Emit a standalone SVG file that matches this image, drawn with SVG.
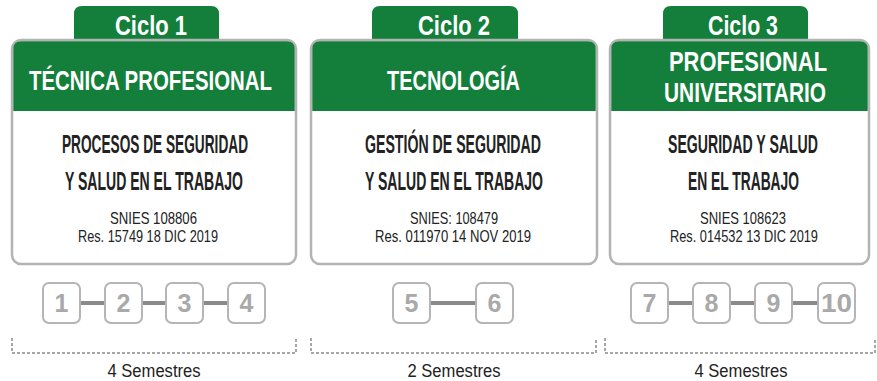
<svg xmlns="http://www.w3.org/2000/svg" width="877" height="381" viewBox="0 0 877 381">
<style>
.card{fill:#fff;stroke:#b3b3b3;stroke-width:2.5}
.green{fill:#137f3b}
.tab{font-family:"Liberation Sans",Arial,sans-serif;font-weight:bold;font-size:28px;fill:#fff;text-anchor:middle}
.head{font-family:"Liberation Sans",Arial,sans-serif;font-weight:bold;font-size:28px;fill:#fff;text-anchor:middle}
.prog{font-family:"Liberation Sans",Arial,sans-serif;font-weight:bold;font-size:25px;fill:#222;text-anchor:middle}
.info{font-family:"Liberation Sans",Arial,sans-serif;font-size:17px;fill:#222;text-anchor:middle}
.sem{fill:#fff;stroke:#b5b5b5;stroke-width:2}
.num{font-family:"Liberation Sans",Arial,sans-serif;font-weight:bold;font-size:25px;fill:#a9a9a9;text-anchor:middle}
.link{stroke:#8a8a8a;stroke-width:4}
.brk{fill:none;stroke:#8a8a8a;stroke-width:1.5;stroke-dasharray:3 2}
.lbl{font-family:"Liberation Sans",Arial,sans-serif;font-size:18px;fill:#222;text-anchor:middle}
</style>

<g id="ciclo1">
<path class="green" d="M74,42 V14 Q74,6 82,6 H211 Q219,6 219,14 V42 Z"/>
<text class="tab" x="151" y="35" textLength="72" lengthAdjust="spacingAndGlyphs">Ciclo 1</text>
<rect class="card" x="12" y="40" width="284" height="224" rx="9"/>
<path class="green" d="M13.3,111 V49 Q13.3,41.3 21,41.3 H287 Q294.7,41.3 294.7,49 V111 Z"/>
<text class="head" x="150.5" y="90" textLength="243" lengthAdjust="spacingAndGlyphs">TÉCNICA PROFESIONAL</text>
<text class="prog" x="155" y="153" textLength="186" lengthAdjust="spacingAndGlyphs">PROCESOS DE SEGURIDAD</text>
<text class="prog" x="154" y="190" textLength="178" lengthAdjust="spacingAndGlyphs">Y SALUD EN EL TRABAJO</text>
<text class="info" x="153.5" y="224" textLength="87" lengthAdjust="spacingAndGlyphs">SNIES  108806</text>
<text class="info" x="148" y="242" textLength="140" lengthAdjust="spacingAndGlyphs">Res. 15749 18 DIC 2019</text>
</g>

<g id="ciclo2">
<path class="green" d="M372,42 V14 Q372,6 380,6 H510 Q518,6 518,14 V42 Z"/>
<text class="tab" x="454" y="35" textLength="72" lengthAdjust="spacingAndGlyphs">Ciclo 2</text>
<rect class="card" x="311" y="40" width="286" height="224" rx="9"/>
<path class="green" d="M312.3,111 V49 Q312.3,41.3 320,41.3 H588 Q595.7,41.3 595.7,49 V111 Z"/>
<text class="head" x="453.5" y="90" textLength="133" lengthAdjust="spacingAndGlyphs">TECNOLOGÍA</text>
<text class="prog" x="453" y="153" textLength="176" lengthAdjust="spacingAndGlyphs">GESTIÓN DE SEGURIDAD</text>
<text class="prog" x="454" y="190" textLength="178" lengthAdjust="spacingAndGlyphs">Y SALUD EN EL TRABAJO</text>
<text class="info" x="454" y="224" textLength="88" lengthAdjust="spacingAndGlyphs">SNIES: 108479</text>
<text class="info" x="453" y="242" textLength="156" lengthAdjust="spacingAndGlyphs">Res. 011970 14 NOV 2019</text>
</g>

<g id="ciclo3">
<path class="green" d="M663,42 V14 Q663,6 671,6 H800 Q808,6 808,14 V42 Z"/>
<text class="tab" x="743" y="35" textLength="70" lengthAdjust="spacingAndGlyphs">Ciclo 3</text>
<rect class="card" x="610" y="40" width="259" height="224" rx="9"/>
<path class="green" d="M611.3,111 V49 Q611.3,41.3 619,41.3 H860 Q867.7,41.3 867.7,49 V111 Z"/>
<text class="head" x="748" y="71" textLength="158" lengthAdjust="spacingAndGlyphs">PROFESIONAL</text>
<text class="head" x="745" y="102" textLength="162" lengthAdjust="spacingAndGlyphs">UNIVERSITARIO</text>
<text class="prog" x="743" y="153" textLength="150" lengthAdjust="spacingAndGlyphs">SEGURIDAD Y SALUD</text>
<text class="prog" x="743.5" y="190" textLength="111" lengthAdjust="spacingAndGlyphs">EN EL TRABAJO</text>
<text class="info" x="743" y="224" textLength="86" lengthAdjust="spacingAndGlyphs">SNIES  108623</text>
<text class="info" x="744" y="242" textLength="148" lengthAdjust="spacingAndGlyphs">Res. 014532 13 DIC 2019</text>
</g>

<g id="connectors">
<line class="link" x1="80" y1="303" x2="105" y2="303"/>
<line class="link" x1="142" y1="303" x2="166" y2="303"/>
<line class="link" x1="203" y1="303" x2="228" y2="303"/>
<line class="link" x1="430" y1="303" x2="476" y2="303"/>
<line class="link" x1="668" y1="303" x2="693" y2="303"/>
<line class="link" x1="730" y1="303" x2="756" y2="303"/>
<line class="link" x1="792" y1="303" x2="818" y2="303"/>
</g>

<g id="sem1"><rect class="sem" x="43" y="283" width="37" height="40" rx="6"/><text class="num" x="61.5" y="312">1</text></g>
<g id="sem2"><rect class="sem" x="105" y="283" width="37" height="40" rx="6"/><text class="num" x="123.5" y="312">2</text></g>
<g id="sem3"><rect class="sem" x="166" y="283" width="37" height="40" rx="6"/><text class="num" x="184.5" y="312">3</text></g>
<g id="sem4"><rect class="sem" x="228" y="283" width="37" height="40" rx="6"/><text class="num" x="246.5" y="312">4</text></g>
<g id="sem5"><rect class="sem" x="393" y="283" width="37" height="40" rx="6"/><text class="num" x="411.5" y="312">5</text></g>
<g id="sem6"><rect class="sem" x="476" y="283" width="37" height="40" rx="6"/><text class="num" x="494.5" y="312">6</text></g>
<g id="sem7"><rect class="sem" x="631" y="283" width="37" height="40" rx="6"/><text class="num" x="649.5" y="312">7</text></g>
<g id="sem8"><rect class="sem" x="693" y="283" width="37" height="40" rx="6"/><text class="num" x="711.5" y="312">8</text></g>
<g id="sem9"><rect class="sem" x="755" y="283" width="37" height="40" rx="6"/><text class="num" x="773.5" y="312">9</text></g>
<g id="sem10"><rect class="sem" x="818" y="283" width="37" height="40" rx="6"/><text class="num" x="836.5" y="312" textLength="31" lengthAdjust="spacingAndGlyphs">10</text></g>

<g id="duracion1">
<path class="brk" d="M12,338 V353 H296 V338"/>
<text class="lbl" x="154" y="377" textLength="93" lengthAdjust="spacingAndGlyphs">4 Semestres</text>
</g>
<g id="duracion2">
<path class="brk" d="M311,338 V353 H596 V338"/>
<text class="lbl" x="454" y="377" textLength="93" lengthAdjust="spacingAndGlyphs">2 Semestres</text>
</g>
<g id="duracion3">
<path class="brk" d="M605,338 V353 H875 V338"/>
<text class="lbl" x="741" y="377" textLength="93" lengthAdjust="spacingAndGlyphs">4 Semestres</text>
</g>
</svg>
